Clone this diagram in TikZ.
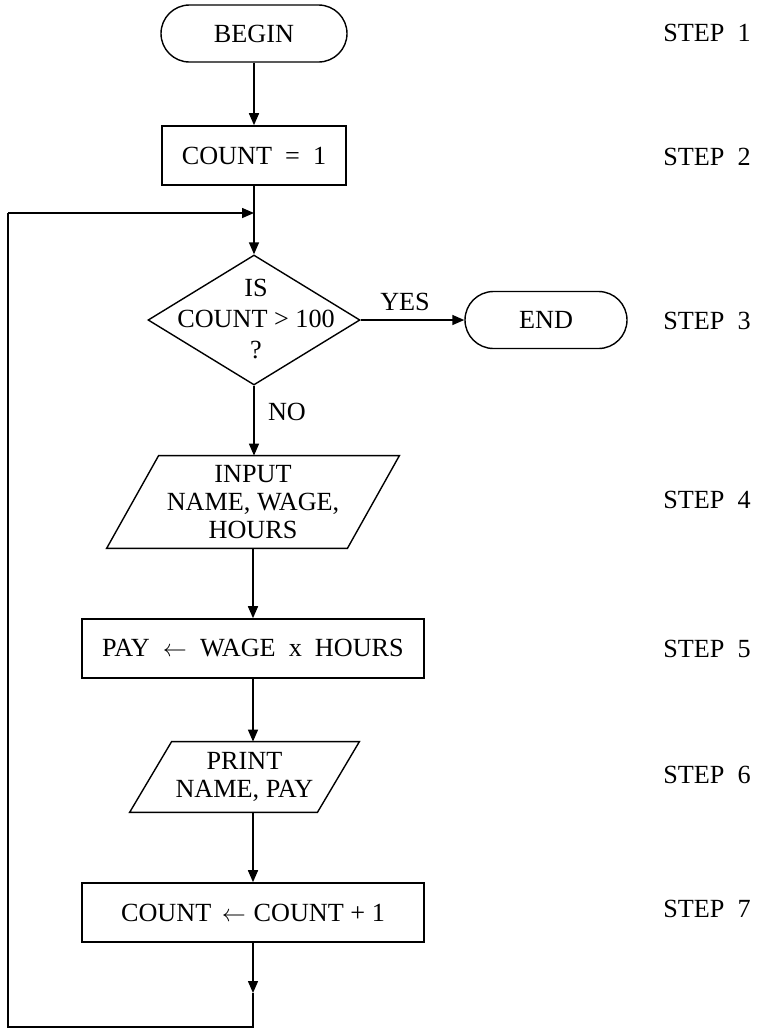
\documentclass[tikz,border=0pt]{standalone}
\usepackage{fontspec}
\setmainfont{Liberation Serif}
\usetikzlibrary{shapes.geometric,arrows.meta}
\begin{document}
\begin{tikzpicture}[x=0.5pt,y=-0.5pt,
  font=\fontsize{13.1}{15.5}\selectfont,
  line/.style={draw=black,line width=0.75pt},
  arr/.style={line,-{Triangle[length=6pt,width=5pt]}},
  term/.style={draw,line width=0.7pt,rectangle,rounded corners=14.25pt,minimum height=28.5pt,inner sep=0pt},
  procbox/.style={draw,line width=0.8pt,rectangle,minimum height=29.5pt,inner sep=0pt},
  iobox/.style={rectangle,inner sep=0pt,align=center},
  para/.style={draw,line width=0.7pt},
  decbox/.style={draw,line width=0.7pt,diamond,minimum width=106pt,minimum height=65pt,inner sep=0pt},
  lbl/.style={inner sep=0pt},
  steplbl/.style={anchor=west,inner sep=0pt}]
\fill[white] (0,0) rectangle (757,1030);
\useasboundingbox (0,0) rectangle (757,1030);

% nodes
\node[term,minimum width=93pt] (begin) at (254,33.5) {BEGIN};
\node[procbox,minimum width=92pt] (init) at (254,155.5) {COUNT\enspace=\enspace1};
\node[decbox] (dec) at (254,320) {};
\node[lbl,align=center] (dectext) at (256,319) {IS\\COUNT > 100\\?};
\node[term,minimum width=81pt] (end) at (546,320) {END};

\node[iobox,minimum width=120pt,minimum height=46pt,font=\fontsize{13.1}{13.8}\selectfont] (inp) at (253,502) {INPUT\\NAME, WAGE,\\HOURS};
\draw[para] ([xshift=-13pt]inp.south west) -- ([xshift=-13pt]inp.south east) -- ([xshift=13pt]inp.north east) -- ([xshift=13pt]inp.north west) -- cycle;

\node[procbox,minimum width=171pt] (pay) at (253,648.5) {PAY\enspace$\leftarrow$\enspace WAGE\enspace x\enspace HOURS};

\node[iobox,minimum width=93.5pt,minimum height=35pt,font=\fontsize{13.1}{14}\selectfont] (prt) at (244.5,777) {PRINT\\NAME, PAY};
\draw[para] ([xshift=-10.5pt]prt.south west) -- ([xshift=-10.5pt]prt.south east) -- ([xshift=10.5pt]prt.north east) -- ([xshift=10.5pt]prt.north west) -- cycle;

\node[procbox,minimum width=171pt] (cnt) at (253,912.5) {COUNT\hspace{0.4em}$\leftarrow$\hspace{0.3em}COUNT + 1};

% loop coordinates
\coordinate (j) at (254,213);
\coordinate (b1) at (253,993);
\coordinate (b2) at (253,1027);
\coordinate (b3) at (8,1027);
\coordinate (b4) at (8,213);

% connectors
\draw[arr] (begin) -- (init);
\draw[line] (init) -- (j);
\draw[arr] (j) -- (dec);
\draw[arr] (dec) -- (end);
\draw[arr] (dec.south) -- (dec.south |- inp.north);
\draw[arr] (inp) -- (pay);
\draw[arr] (pay.south) -- (pay.south |- prt.north);
\draw[arr] (pay.south |- prt.south) -- (cnt.north);
\draw[arr] (cnt) -- (b1);
\draw[line] (b1) -- (b2) -- (b3) -- (b4);
\draw[arr] (b4) -- (j);

% labels
\node[lbl] (yes) at (405,302) {YES};
\node[lbl] (no) at (287,412) {NO};

\node[steplbl] (s1) at (663,33) {STEP\enspace1};
\node[steplbl] (s2) at (663,157) {STEP\enspace2};
\node[steplbl] (s3) at (663,321) {STEP\enspace3};
\node[steplbl] (s4) at (663,500) {STEP\enspace4};
\node[steplbl] (s5) at (663,649) {STEP\enspace5};
\node[steplbl] (s6) at (663,775) {STEP\enspace6};
\node[steplbl] (s7) at (663,909) {STEP\enspace7};
\end{tikzpicture}
\end{document}
